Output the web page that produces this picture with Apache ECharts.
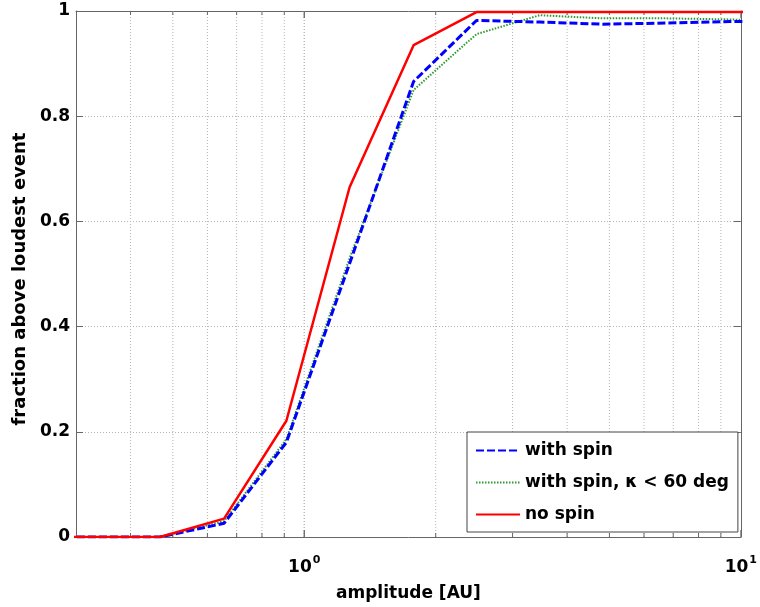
<!DOCTYPE html>
<html>
<head>
<meta charset="utf-8">
<script src="https://cdn.jsdelivr.net/npm/echarts@6/dist/echarts.min.js"></script>
<style>html,body{margin:0;padding:0;background:#fff}#c{width:760px;height:607px}</style>
</head>
<body>
<div id="c"></div>
<script>
// amplitude values (log-spaced samples)
var amplitude = [0.239, 0.334, 0.467, 0.655, 0.91, 1.27, 1.78, 2.48, 3.46, 4.83, 6.75, 9.43, 13.2];
var withSpin = [0, 0, 0, 0.026, 0.18, 0.52, 0.866, 0.982, 0.979, 0.975, 0.977, 0.980, 0.981];
var withSpinKappa = [0, 0, 0, 0.030, 0.186, 0.53, 0.850, 0.956, 0.992, 0.986, 0.986, 0.984, 0.979];
var noSpin = [0, 0, 0, 0.035, 0.221, 0.665, 0.935, 0.998, 0.998, 0.998, 0.998, 0.998, 0.998];
var seriesNames = ['with spin', 'with spin, \u03ba < 60 deg', 'no spin'];
var gridX = [0.4, 0.5, 0.6, 0.7, 0.8, 0.9, 1, 2, 3, 4, 5, 6, 7, 8, 9];
var majorX = [1, 10];

function pairs(ys) { return amplitude.map(function (x, i) { return [x, ys[i]]; }); }

var FONT = '"DejaVu Sans", Verdana, sans-serif';
var FS = 17;
var chart = echarts.init(document.getElementById('c'));
var gridColor = '#b4b4b4';

chart.setOption({
  animation: false,
  backgroundColor: '#fff',
  grid: { left: 76, right: 14, top: 11, bottom: 69, containLabel: false },
  legend: {
    data: seriesNames,
    orient: 'vertical',
    left: 467, top: 432,
    padding: [10, 9, 9, 8],
    itemWidth: 44, itemHeight: 14, itemGap: 15,
    borderColor: '#444', borderWidth: 1,
    backgroundColor: '#fff',
    itemStyle: { opacity: 0 },
    textStyle: { fontFamily: FONT, fontWeight: 'bold', fontSize: FS, color: '#000' }
  },
  xAxis: [{
    type: 'log', logBase: 10, min: 0.3, max: 10,
    name: 'amplitude [AU]', nameLocation: 'middle', nameGap: 48,
    nameTextStyle: { fontFamily: FONT, fontWeight: 'bold', fontSize: FS, color: '#000' },
    axisLine: { show: true, onZero: false, lineStyle: { color: '#666', width: 1 } },
    axisTick: { show: false },
    splitLine: { show: false },
    axisLabel: {
      showMinLabel: false,
      margin: 18,
      formatter: function (v) {
        if (Math.abs(v - 1) < 1e-9) return '{b|10}{s|0}';
        if (Math.abs(v - 10) < 1e-9) return '{b|10}{s|1}';
        return '';
      },
      rich: {
        b: { fontFamily: FONT, fontWeight: 'bold', fontSize: FS, color: '#000' },
        s: { fontFamily: FONT, fontWeight: 'bold', fontSize: 11, color: '#000', padding: [0, 0, 14, 1] }
      }
    }
  }, {
    type: 'log', logBase: 10, min: 0.3, max: 10, position: 'top',
    axisLine: { show: true, onZero: false, lineStyle: { color: '#666', width: 1 } },
    axisTick: { show: false }, axisLabel: { show: false }, splitLine: { show: false }
  }],
  yAxis: [{
    type: 'value', min: 0, max: 1, interval: 0.2,
    name: 'fraction above loudest event', nameLocation: 'middle', nameGap: 47,
    nameTextStyle: { fontFamily: FONT, fontWeight: 'bold', fontSize: 18, color: '#000', padding: [0, 10, 0, 0] },
    axisLine: { show: true, lineStyle: { color: '#666', width: 1 } },
    axisTick: { show: true, inside: true, length: 7, lineStyle: { color: '#666' } },
    splitLine: { show: true, lineStyle: { color: gridColor, type: [1, 2], width: 1 } },
    axisLabel: { margin: 6, fontFamily: FONT, fontWeight: 'bold', fontSize: FS, color: '#000' }
  }, {
    type: 'value', min: 0, max: 1, interval: 0.2, position: 'right',
    axisLine: { show: true, lineStyle: { color: '#666', width: 1 } },
    axisTick: { show: true, inside: true, length: 7, lineStyle: { color: '#666' } },
    axisLabel: { show: false }, splitLine: { show: false }
  }],
  series: [{
    type: 'custom',
    silent: true,
    z: 1,
    clip: true,
    data: gridX.concat(majorX).map(function (x) { return [x, 0]; }),
    renderItem: function (params, api) {
      var x = api.value(0);
      var b = api.coord([x, 0]);
      var t = api.coord([x, 1]);
      var major = (Math.abs(x - 1) < 1e-9 || Math.abs(x - 10) < 1e-9);
      var len = major ? 7 : 4;
      var children = [];
      if (Math.abs(x - 10) > 1e-9) {
        children.push({ type: 'line', shape: { x1: b[0], y1: b[1], x2: t[0], y2: t[1] },
          style: { stroke: gridColor, lineWidth: 1, lineDash: [1, 2] } });
      }
      children.push({ type: 'line', shape: { x1: b[0], y1: b[1], x2: b[0], y2: b[1] - len },
        style: { stroke: '#666', lineWidth: 1 } });
      children.push({ type: 'line', shape: { x1: t[0], y1: t[1], x2: t[0], y2: t[1] + len },
        style: { stroke: '#666', lineWidth: 1 } });
      return { type: 'group', children: children };
    }
  }, {
    name: seriesNames[0], type: 'line', data: pairs(withSpin), symbol: 'none', z: 4, clip: true,
    lineStyle: { color: '#0000ff', width: 3, type: [8, 3] }, itemStyle: { color: '#0000ff' }
  }, {
    name: seriesNames[1], type: 'line', data: pairs(withSpinKappa), symbol: 'none', z: 3, clip: true,
    lineStyle: { color: '#2e9a2e', width: 2, type: [1.5, 1.5] }, itemStyle: { color: '#2e9a2e' }
  }, {
    name: seriesNames[2], type: 'line', data: pairs(noSpin), symbol: 'none', z: 5, clip: true,
    lineStyle: { color: '#ff0000', width: 2.5 }, itemStyle: { color: '#ff0000' }
  }]
});
</script>
</body>
</html>
